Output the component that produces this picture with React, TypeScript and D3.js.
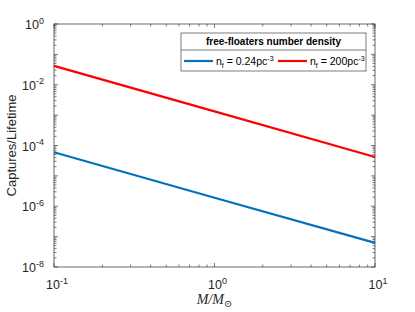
import * as d3 from "d3";

const masses = [0.1, 1, 10];
const lowDensity = [0.042 / 700, 1.9e-6, 6.2e-8];
const highDensity = [0.042, 1.33e-3, 4.2e-5];
const seriesLabels = ["0.24", "200"];
const xTicks = [0.1, 1, 10];
const yTicks = [1e-8, 1e-6, 1e-4, 1e-2, 1];

const W = 415;
const H = 312;
const margin = { left: 54, right: 40, top: 24, bottom: 45 };
const ink = "#262626";
const font = "'Liberation Sans', Arial, sans-serif";

const exp = (v: number) => Math.round(Math.log10(v));

const TenPow = ({ x, y, v, anchor }: { x: number; y: number; v: number; anchor: string }) => (
  <text x={x} y={y} textAnchor={anchor} fontSize={12.5} fill={ink} fontFamily={font}>
    10<tspan dy={-5.5} fontSize={9}>{exp(v)}</tspan>
  </text>
);

export default function App() {
  const x = d3.scaleLog().domain([0.1, 10]).range([margin.left, W - margin.right]);
  const y = d3.scaleLog().domain([1e-8, 1]).range([H - margin.bottom, margin.top]);
  const [x0, x1] = x.range();
  const [y0, y1] = y.range();

  const line = (vals: number[]) =>
    d3
      .line<number>()
      .x((_, i) => x(masses[i]))
      .y(d => y(d))(vals) ?? "";

  const xMinor = x.ticks();
  const yMinor: number[] = [];
  for (let e = -8; e < 0; e++) for (let k = 1; k < 10; k++) yMinor.push(k * Math.pow(10, e));
  yMinor.push(1);

  const legX = 181;
  const legY = 33;
  const legW = 185;
  const legH = 38;

  return (
    <svg width={W} height={H} style={{ position: "absolute", left: 0, top: 0, background: "#fff" }}>
      <rect x={x0} y={y1} width={x1 - x0} height={y0 - y1} fill="#fff" />
      {/* x ticks */}
      {xMinor.map((t, i) => {
        const major = xTicks.some(m => Math.abs(m - t) < 1e-9);
        const len = major ? 4 : 2.5;
        return (
          <g key={"x" + i} stroke={ink} strokeWidth={0.6}>
            <line x1={x(t)} x2={x(t)} y1={y0} y2={y0 - len} />
            <line x1={x(t)} x2={x(t)} y1={y1} y2={y1 + len} />
          </g>
        );
      })}
      {/* y ticks */}
      {yMinor.map((t, i) => {
        const major = Math.abs(Math.log10(t) - Math.round(Math.log10(t))) < 1e-9;
        const len = major ? 4 : 2.5;
        return (
          <g key={"y" + i} stroke={ink} strokeWidth={0.6}>
            <line x1={x0} x2={x0 + len} y1={y(t)} y2={y(t)} />
            <line x1={x1} x2={x1 - len} y1={y(t)} y2={y(t)} />
          </g>
        );
      })}
      <rect x={x0} y={y1} width={x1 - x0} height={y0 - y1} fill="none" stroke={ink} strokeWidth={0.7} />

      <path d={line(lowDensity)} fill="none" stroke="#0072BD" strokeWidth={2.2} />
      <path d={line(highDensity)} fill="none" stroke="#FF0000" strokeWidth={2.2} />

      {xTicks.map(t => (
        <TenPow key={t} x={x(t) + 3} y={y0 + 22} v={t} anchor="middle" />
      ))}
      {yTicks.map(t => (
        <TenPow key={t} x={x0 - 10} y={y(t) + 5} v={t} anchor="end" />
      ))}

      <text
        transform={`translate(16,${(y0 + y1) / 2}) rotate(-90)`}
        textAnchor="middle"
        fontSize={13}
        fill={ink}
        fontFamily={font}
      >
        Captures/Lifetime
      </text>
      <text
        x={(x0 + x1) / 2}
        y={H - 8}
        textAnchor="middle"
        fontSize={14}
        fill={ink}
        fontFamily="'Liberation Serif', 'DejaVu Serif', serif"
        fontStyle="italic"
      >
        M/M<tspan dy={3} fontSize={10} fontStyle="normal">⊙</tspan>
      </text>

      {/* legend */}
      <rect x={legX} y={legY} width={legW} height={legH} fill="#fff" stroke={ink} strokeWidth={0.6} />
      <line x1={legX} x2={legX + legW} y1={legY + 17} y2={legY + 17} stroke={ink} strokeWidth={0.6} />
      <text
        x={legX + legW / 2}
        y={legY + 12}
        textAnchor="middle"
        fontSize={10}
        fontWeight="bold"
        fill="#000"
        fontFamily={font}
      >
        free-floaters number density
      </text>
      {[0, 1].map(i => {
        const sx = legX + 3 + i * 94;
        const sy = legY + 28;
        return (
          <g key={i}>
            <line x1={sx} x2={sx + 29} y1={sy} y2={sy} stroke={i === 0 ? "#0072BD" : "#FF0000"} strokeWidth={2.2} />
            <text x={sx + 32} y={sy + 4} fontSize={10.5} fill="#000" fontFamily={font}>
              n<tspan dy={2.5} fontSize={7}>f</tspan>
              <tspan dy={-2.5}> = {seriesLabels[i]}pc</tspan>
              <tspan dy={-4.5} fontSize={7}>-3</tspan>
            </text>
          </g>
        );
      })}
    </svg>
  );
}
